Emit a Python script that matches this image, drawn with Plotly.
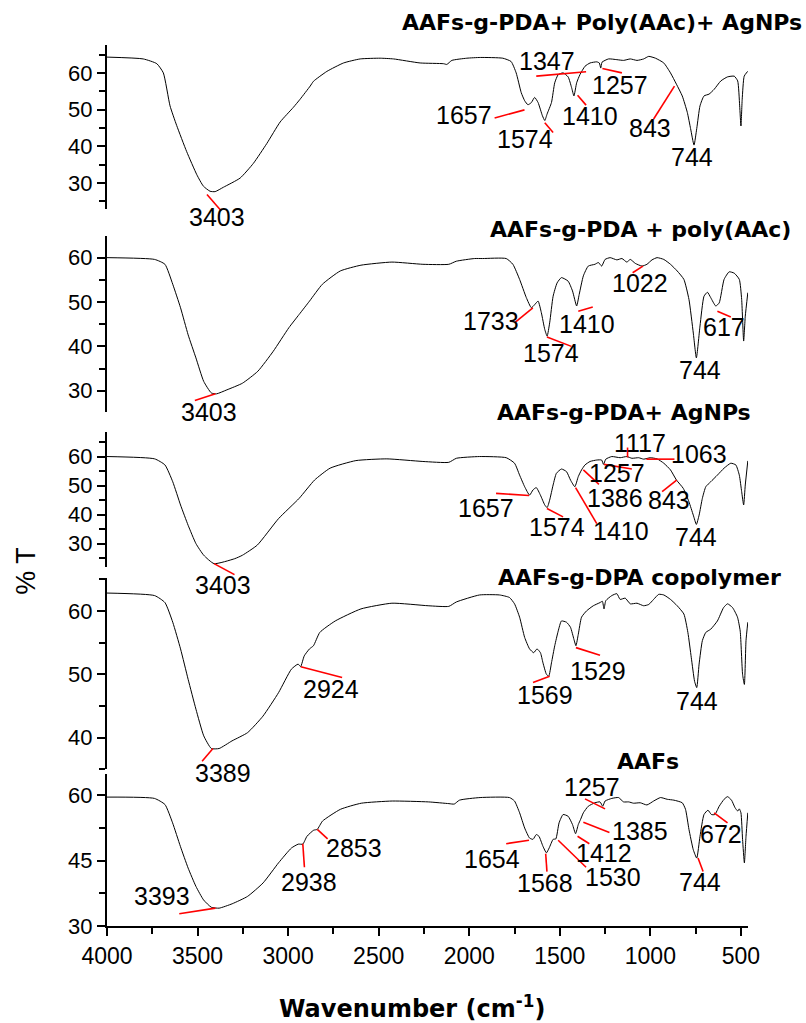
import plotly.graph_objects as go

# ---------------- data (wavenumber cm-1, %T) ----------------
wn_p1 = [4000, 3800, 3725, 3689, 3652, 3615, 3560, 3504, 3468, 3431, 3403, 3357, 3265, 3192, 3118, 3044,
         2971, 2934, 2878, 2860, 2786, 2694, 2602, 2492, 2418, 2271, 2142, 2124, 2096, 2013, 1939,
         1815, 1769, 1741, 1713, 1694, 1676, 1657, 1639, 1620, 1596, 1583, 1570, 1546, 1528, 1509,
         1482, 1454, 1435, 1422, 1407, 1389, 1361, 1333, 1296, 1282, 1274, 1267, 1231, 1185, 1148,
         1111, 1074, 1037, 1009, 972, 926, 889, 856, 824, 796, 778, 759, 744, 726, 704, 676, 648,
         611, 574, 537, 518, 507, 500, 493, 482, 463]
t_p1 = [64.3, 63.8, 62.5, 60.0, 51.0, 45.6, 38.5, 32.2, 29.1, 27.7, 27.6, 28.8, 31.3, 35.3, 40.7, 46.6,
        50.6, 52.8, 56.4, 57.7, 60.4, 62.7, 63.8, 64.0, 63.8, 62.7, 62.5, 62.3, 63.4, 64.0, 64.2,
        64.0, 63.1, 60.0, 54.6, 52.4, 51.3, 51.9, 53.3, 51.9, 48.3, 47.0, 48.8, 51.9, 57.3, 59.5,
        60.0, 58.9, 56.0, 53.7, 57.3, 59.5, 61.8, 62.7, 63.0, 62.7, 61.3, 62.9, 63.8, 63.6, 63.4,
        63.8, 63.4, 63.8, 64.5, 64.0, 62.7, 60.0, 56.9, 53.7, 49.2, 44.8, 40.3, 44.8, 51.0, 53.7, 54.2, 55.5,
        57.8, 58.9, 59.1, 57.8, 51.0, 45.5, 52.8, 59.1, 60.4]

wn_p2 = [4000, 3737, 3680, 3637, 3594, 3552, 3509, 3466, 3424, 3395, 3338, 3252, 3167, 3082, 2996, 2939,
         2882, 2811, 2712, 2598, 2427, 2256, 2113, 2071, 1971, 1926,
         1796, 1759, 1722, 1685, 1657, 1639, 1620, 1602, 1583, 1570, 1556, 1537, 1515, 1491, 1454,
         1430, 1407, 1393, 1370, 1343, 1306, 1287, 1269, 1250, 1222, 1185, 1157, 1130, 1111, 1083,
         1046, 1019, 991, 963, 926, 889, 852, 815, 787, 763, 746, 726, 704, 685, 667, 639, 620, 593,
         565, 537, 509, 496, 485, 476, 462]
t_p2 = [60.0, 59.6, 58.5, 54.0, 48.7, 42.6, 37.4, 32.1, 29.5, 29.3, 30.2, 31.7, 34.4, 38.9, 44.2, 47.2,
        50.2, 54.0, 57.0, 58.3, 59.0, 58.5, 58.5, 59.2, 59.8, 59.8,
        59.8, 58.5, 55.1, 51.0, 48.7, 49.4, 50.2, 47.6, 43.8, 42.3, 45.3, 51.3, 54.3, 55.5, 54.7,
        52.5, 49.1, 51.7, 55.9, 58.1, 58.5, 58.9, 58.1, 59.6, 60.0, 59.5, 59.8, 59.0, 59.6, 58.7,
        58.1, 58.5, 59.5, 60.0, 59.6, 58.5, 57.0, 55.1, 50.6, 43.0, 37.4, 44.6, 51.3, 52.2, 51.0, 49.1, 49.8, 55.1,
        56.8, 56.5, 55.1, 50.6, 41.2, 46.8, 52.1]

wn_p3 = [4000, 3737, 3680, 3637, 3594, 3552, 3509, 3466, 3409, 3295, 3252, 3170, 3053, 2939, 2854, 2768,
         2626, 2455, 2256, 2113, 2071, 1943,
         1796, 1750, 1722, 1694, 1667, 1648, 1630, 1607, 1583, 1570, 1556, 1537, 1519, 1491, 1463,
         1441, 1417, 1398, 1380, 1361, 1333, 1296, 1269, 1259, 1246, 1213, 1167, 1130, 1102, 1065,
         1037, 1000, 963, 926, 889, 856, 818, 787, 763, 746, 731, 713, 694, 667, 630, 593, 556, 528,
         509, 496, 485, 476, 462]
t_p3 = [60.0, 59.2, 57.1, 51.3, 43.3, 36.3, 30.0, 26.0, 23.1, 24.8, 26.0, 29.5, 38.6, 45.6, 51.9, 56.0,
        58.6, 59.2, 58.3, 58.0, 59.4, 60.0,
        59.6, 57.7, 53.6, 49.6, 46.7, 48.5, 49.3, 46.7, 43.3, 42.4, 45.0, 50.2, 54.2, 55.7, 54.8,
        51.9, 49.6, 53.1, 55.4, 57.1, 58.3, 58.8, 58.8, 57.3, 59.1, 60.0, 59.6, 60.0, 59.4, 59.6,
        59.1, 59.6, 59.2, 57.7, 55.4, 51.9, 49.0, 44.4, 39.8, 36.6, 39.8, 45.6, 49.6, 51.3, 53.6, 56.0, 57.7, 57.1,
        53.6, 47.9, 43.3, 50.2, 58.5]

wn_p4 = [4000, 3737, 3680, 3637, 3594, 3552, 3509, 3466, 3424, 3381, 3310, 3224, 3139, 3053, 2982, 2945,
         2931, 2911, 2882, 2860, 2825, 2740, 2598, 2427, 2227, 2113, 2071, 1943,
         1833, 1778, 1750, 1722, 1694, 1667, 1644, 1626, 1607, 1593, 1574, 1561, 1546, 1528, 1509,
         1491, 1463, 1441, 1422, 1411, 1398, 1380, 1352, 1315, 1278, 1265, 1256, 1246, 1213, 1185,
         1167, 1139, 1111, 1074, 1037, 1009, 982, 954, 926, 889, 852, 815, 793, 774, 756, 744, 731,
         713, 694, 667, 630, 596, 574, 546, 519, 504, 491, 481, 472, 462]
t_p4 = [62.8, 62.4, 61.3, 58.2, 54.0, 49.2, 44.5, 40.3, 38.3, 38.3, 39.5, 40.8, 43.4, 47.1, 50.8, 51.6,
        51.2, 52.9, 54.0, 54.5, 56.6, 58.4, 60.3, 61.2, 60.8, 60.7, 61.4, 62.5,
        62.5, 62.1, 61.1, 59.0, 55.8, 54.0, 53.4, 54.0, 53.4, 51.8, 50.0, 49.7, 51.8, 54.5, 56.8,
        58.4, 58.2, 57.4, 55.5, 54.5, 56.3, 59.0, 60.0, 60.8, 61.3, 61.5, 60.3, 61.6, 62.4, 62.7,
        61.8, 62.0, 61.1, 61.2, 60.8, 61.0, 61.8, 62.6, 62.5, 61.8, 60.8, 59.5, 56.6, 52.6, 48.9, 47.9, 51.6,
        55.3, 56.6, 57.1, 58.4, 60.5, 61.1, 60.5, 59.0, 56.8, 50.0, 48.4, 55.3, 58.2]

wn_p5 = [4000, 3738, 3680, 3638, 3595, 3552, 3509, 3467, 3424, 3381, 3309, 3224, 3138, 3053, 2982, 2944,
         2919, 2896, 2859, 2839, 2810, 2711, 2596, 2425, 2226, 2112, 2083, 2054, 1940,
         1778, 1750, 1722, 1694, 1667, 1648, 1630, 1615, 1593, 1574, 1559, 1537, 1522, 1504, 1482,
         1454, 1430, 1413, 1398, 1385, 1370, 1343, 1306, 1278, 1263, 1250, 1213, 1176, 1148, 1120,
         1093, 1056, 1019, 982, 944, 907, 870, 824, 806, 787, 763, 744, 726, 704, 682, 663, 644, 620,
         593, 574, 552, 533, 518, 509, 500, 491, 481, 472, 462]
t_p5 = [59.6, 59.3, 57.9, 53.7, 48.3, 43.3, 39.1, 36.0, 34.3, 34.1, 35.1, 36.8, 39.9, 44.5, 47.9, 48.8,
        48.8, 50.6, 52.0, 52.2, 54.1, 56.8, 58.2, 58.7, 58.5, 58.1, 58.0, 58.9, 59.5,
        59.5, 58.7, 56.0, 52.5, 50.2, 49.9, 51.0, 50.6, 48.3, 46.8, 47.9, 49.9, 50.0, 53.7, 55.6,
        55.2, 53.3, 51.2, 53.3, 54.5, 56.0, 57.5, 58.3, 58.5, 57.5, 58.7, 59.3, 59.5, 58.5, 58.5,
        58.2, 58.3, 57.8, 58.7, 59.5, 59.1, 58.9, 58.3, 56.8, 52.2, 47.5, 45.6, 50.6, 55.6, 56.6, 55.6, 55.6, 57.5,
        59.1, 59.7, 58.9, 57.2, 56.4, 56.9, 56.0, 49.9, 44.5, 50.6, 56.0]

panel_titles = ["AAFs-g-PDA+ Poly(AAc)+ AgNPs", "AAFs-g-PDA + poly(AAc)", "AAFs-g-PDA+ AgNPs",
                "AAFs-g-DPA copolymer", "AAFs"]

# peak labels: (text, label wn, label %T, leader start wn, %T, leader end wn, %T)
peaks_p1 = [("3403", 3390, 20.6, 3448, 26.8, 3370, 22.4),
            ("1657", 2030, 48.6, 1860, 47.7, 1695, 49.9),
            ("1574", 1691, 41.9, 1583, 46.4, 1537, 43.7),
            ("1410", 1333, 48.2, 1402, 53.9, 1355, 51.2),
            ("1347", 1572, 63.1, 1630, 59.1, 1355, 60.3),
            ("1257", 1167, 56.7, 1265, 61.2, 1157, 60.0),
            ("843", 1004, 44.9, 982, 47.4, 867, 56.4),
            ("744", 770, 37.1, None, None, None, None)]
peaks_p2 = [("3403", 3438, 25.3, 3515, 27.8, 3401, 29.3),
            ("1733", 1880, 45.7, 1747, 45.4, 1649, 48.7),
            ("1574", 1550, 38.4, 1571, 42.1, 1436, 40.0),
            ("1410", 1350, 45.1, 1398, 47.9, 1318, 48.9),
            ("1022", 1056, 54.2, 1098, 56.6, 1041, 58.1),
            ("744", 726, 34.6, None, None, None, None),
            ("617", 596, 44.4, 630, 47.9, 556, 46.6)]
peaks_p3 = [("3403", 3361, 15.6, 3409, 23.1, 3296, 19.3),
            ("1657", 1906, 42.1, 1852, 47.3, 1670, 46.6),
            ("1574", 1517, 35.8, 1571, 42.1, 1482, 39.2),
            ("1410", 1160, 34.3, 1413, 49.3, 1296, 36.9),
            ("1386", 1197, 45.6, 1370, 55.4, 1284, 50.4),
            ("1257", 1182, 54.4, 1256, 57.3, 1102, 55.7),
            ("1117", 1056, 64.8, 1126, 63.1, 1126, 59.7),
            ("1063", 732, 60.8, 1022, 59.1, 867, 59.1),
            ("843", 898, 45.0, 935, 47.9, 855, 51.9),
            ("744", 746, 32.3, None, None, None, None)]
peaks_p4 = [("3389", 3360, 34.5, 3415, 38.3, 3475, 36.3),
            ("2924", 2761, 47.6, 2930, 51.2, 2702, 49.5),
            ("1569", 1583, 46.8, 1648, 48.7, 1556, 49.7),
            ("1529", 1287, 50.5, 1411, 54.2, 1278, 53.0),
            ("744", 743, 45.8, None, None, None, None)]
peaks_p5 = [("3393", 3697, 36.8, 3601, 32.8, 3401, 34.1),
            ("2938", 2882, 40.0, 2919, 48.9, 2910, 43.5),
            ("2853", 2635, 47.9, 2839, 52.2, 2782, 50.0),
            ("1654", 1872, 45.4, 1796, 48.9, 1670, 49.7),
            ("1568", 1583, 39.8, 1578, 46.6, 1571, 42.5),
            ("1530", 1208, 41.2, 1509, 49.7, 1355, 43.5),
            ("1412", 1256, 46.8, 1402, 50.6, 1337, 48.9),
            ("1385", 1056, 51.9, 1370, 53.8, 1226, 51.5),
            ("1257", 1324, 62.0, 1361, 59.2, 1250, 56.9),
            ("744", 726, 40.2, 737, 45.6, 709, 42.5),
            ("672", 609, 51.2, 648, 56.0, 574, 53.7)]

spectra = [(wn_p1, t_p1), (wn_p2, t_p2), (wn_p3, t_p3), (wn_p4, t_p4), (wn_p5, t_p5)]
peaks = [peaks_p1, peaks_p2, peaks_p3, peaks_p4, peaks_p5]

# ---------------- layout ----------------
X0, X1 = 4000, 461
DOMAINS = [[0.8136, 1.0], [0.5839, 0.7833], [0.4077, 0.5612], [0.1777, 0.3952], [0.0, 0.1720]]
RANGES = [[22.8, 67.6], [25.3, 64.9], [22.0, 68.6], [35.0, 65.2], [30.0, 64.8]]
YDTICK = [10, 10, 10, 10, 15]
TITLE_POS = [(0.773, 1.025), (0.8323, 0.7908), (0.8066, 0.5831), (0.8307, 0.396), (0.844, 0.1868)]

NUM_FONT = dict(family="Liberation Sans, Arial, sans-serif", size=25, color="black")
TICK_FONT = dict(family="Liberation Sans, Arial, sans-serif", size=22, color="black")
BOLD_FONT = dict(family="DejaVu Sans, sans-serif", size=22, color="black", weight="bold")


def xp(wn):
    return (X0 - wn) / (X0 - X1)


def yp(i, v):
    d0, d1 = DOMAINS[i]
    r0, r1 = RANGES[i]
    return d0 + (v - r0) / (r1 - r0) * (d1 - d0)


fig = go.Figure()
layout = dict(width=806, height=1023, paper_bgcolor="white", plot_bgcolor="white",
              margin=dict(l=107, r=58, t=45, b=97), showlegend=False)
annotations = []
shapes = []

for i, (wn, t) in enumerate(spectra):
    k = i + 1
    xa = "x" if k == 1 else f"x{k}"
    ya = "y" if k == 1 else f"y{k}"
    fig.add_trace(go.Scatter(x=wn, y=t, mode="lines",
                             line=dict(color="black", width=1, shape="spline", smoothing=0.5),
                             xaxis=xa, yaxis=ya, hoverinfo="skip"))
    last = (k == 5)
    xaxis = dict(
        domain=[0, 1], range=[X0, X1], anchor=ya, showgrid=False, zeroline=False,
        visible=last, showline=last, linecolor="black", linewidth=2,
        ticks="outside" if last else "", ticklen=8, tickwidth=2, tickcolor="black",
        tick0=0, dtick=500, tickfont=dict(family="Liberation Sans, Arial, sans-serif", size=23, color="black"),
    )
    if last:
        xaxis["minor"] = dict(dtick=250, ticklen=6, tickwidth=2, tickcolor="black", ticks="outside")
    layout["xaxis" if k == 1 else f"xaxis{k}"] = xaxis
    layout["yaxis" if k == 1 else f"yaxis{k}"] = dict(
        domain=DOMAINS[i], range=RANGES[i], anchor=xa, showgrid=False, zeroline=False,
        showline=True, linecolor="black", linewidth=2, ticks="outside", ticklen=8, tickwidth=2,
        tickcolor="black", tick0=0, dtick=YDTICK[i], tickfont=TICK_FONT,
        minor=dict(dtick=YDTICK[i] / 2, ticklen=6, tickwidth=2, tickcolor="black", ticks="outside"),
    )
    tx, ty = TITLE_POS[i]
    annotations.append(dict(text=panel_titles[i], x=tx, y=ty, xref="paper", yref="paper",
                            xanchor="center", yanchor="middle", showarrow=False, font=BOLD_FONT))
    for lab, lx, ly, a0, b0, a1, b1 in peaks[i]:
        annotations.append(dict(text=lab, x=xp(lx), y=yp(i, ly), xref="paper", yref="paper",
                                xanchor="center", yanchor="middle", showarrow=False, borderpad=0,
                                font=NUM_FONT))
        if a0 is not None:
            shapes.append(dict(type="line", xref="paper", yref="paper",
                               x0=xp(a0), y0=yp(i, b0), x1=xp(a1), y1=yp(i, b1),
                               line=dict(color="red", width=1.6)))

annotations.append(dict(text="% T", x=-0.1264, y=0.4032, xref="paper", yref="paper", textangle=-90,
                        xanchor="center", yanchor="middle", showarrow=False,
                        font=dict(family="Liberation Sans, Arial, sans-serif", size=27, color="black")))
annotations.append(dict(text="Wavenumber (cm<sup>-1</sup>)", x=0.4758, y=-0.0919, xref="paper", yref="paper",
                        xanchor="center", yanchor="middle", showarrow=False,
                        font=dict(family="DejaVu Sans, sans-serif", size=24, color="black", weight="bold")))

layout["annotations"] = annotations
layout["shapes"] = shapes
fig.update_layout(**layout)
fig.write_html("out.html")
